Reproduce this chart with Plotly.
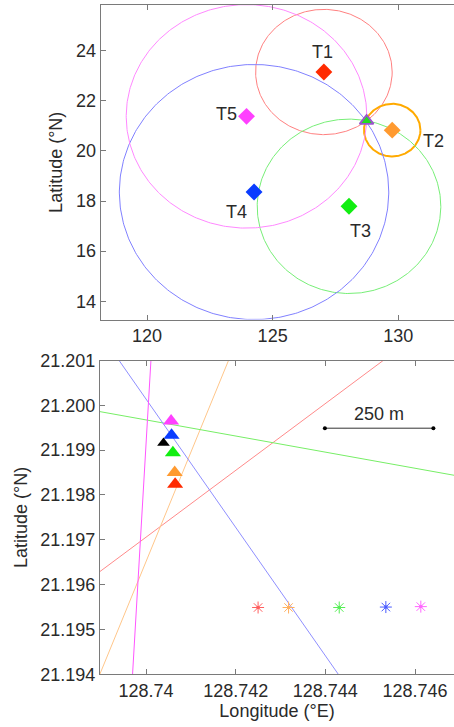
import numpy as np
import plotly.graph_objects as go

# ---------------- data: top panel (regional view) ----------------
station_names = ["T1", "T2", "T3", "T4", "T5"]
station_lon = [127.04, 129.76, 128.04, 124.26, 123.96]
station_lat = [23.15, 20.83, 17.79, 18.36, 21.38]
range_radius_deg = [2.50, 1.05, 3.48, 5.09, 4.46]
target_lon = 128.7406
target_lat = 21.1991

top_x_ticks = [120, 125, 130]
top_y_ticks = [14, 16, 18, 20, 22, 24]

# ---------------- data: bottom panel (zoomed view) ----------------
# order: red(T1), orange(T2), green(T3), blue(T4), magenta(T5)
estimate_lon = [128.74065, 128.74064, 128.74060, 128.74057, 128.74056]
estimate_lat = [21.19824, 21.19850, 21.19894, 21.19933, 21.19965]
true_lon = [128.74039]
true_lat = [21.19916]
star_lon = [128.74250, 128.74318, 128.74431, 128.74535, 128.74613]
star_lat = [21.19549, 21.19549, 21.19549, 21.19550, 21.19551]
line_lon_a = [128.73897, 128.73897, 128.73897, 128.73940, 128.74011]
line_lat_a = [21.19629, 21.19400, 21.19986, 21.20100, 21.20100]
line_lon_b = [128.74529, 128.74184, 128.74687, 128.74429, 128.73970]
line_lat_b = [21.20100, 21.20100, 21.19844, 21.19400, 21.19400]
scale_lon = [128.74399, 128.74641]
scale_lat = [21.19949, 21.19949]
scale_label = "250 m"

bot_x_ticks = [128.740, 128.742, 128.744, 128.746]
bot_x_text = ["128.74", "128.742", "128.744", "128.746"]
bot_y_ticks = [21.194, 21.195, 21.196, 21.197, 21.198, 21.199, 21.200, 21.201]

# ---------------- styles ----------------
marker_colors = ["#ff2a00", "#ff9a30", "#11ee11", "#0a3cff", "#ff40ff"]
circle_colors = ["#ff8080", "#ffaa00", "#77ee77", "#8080ff", "#ff88ff"]
circle_widths = [1, 2, 1, 1, 1]
line_colors = ["#ff8a8a", "#ffc68a", "#77ee66", "#8f8fff", "#ff55ff"]
star_colors = ["#ff6060", "#ffb060", "#55ee55", "#4a5cff", "#ff66ff"]
FONT = "Liberation Sans"
FS = 18
TXT = "#2a2a2a"
AX = "#7a7a7a"

fig = go.Figure()

# circles (range rings) on top panel
t = np.linspace(0, 2 * np.pi, 400)
for i in range(len(station_names)):
    r = range_radius_deg[i]
    lat0 = station_lat[i]
    cx = station_lon[i] + r * np.cos(t) / np.cos(np.radians(lat0))
    cy = lat0 + r * np.sin(t)
    fig.add_trace(go.Scatter(x=cx, y=cy, mode="lines",
                             line=dict(color=circle_colors[i], width=circle_widths[i]),
                             hoverinfo="skip", showlegend=False, xaxis="x", yaxis="y"))

fig.add_trace(go.Scatter(x=station_lon, y=station_lat, mode="markers",
                         marker=dict(symbol="diamond", size=13, color=marker_colors,
                                     line=dict(width=0)),
                         showlegend=False, xaxis="x", yaxis="y"))
fig.add_trace(go.Scatter(x=[target_lon], y=[target_lat], mode="markers",
                         marker=dict(symbol="triangle-up", size=12, color="#22dd22",
                                     line=dict(color="#9a55cc", width=1.8)),
                         showlegend=False, xaxis="x", yaxis="y"))

label_shift = [(-1, 20), (41, -11), (11, -25), (-18, -20), (-20, 2)]
for i, name in enumerate(station_names):
    fig.add_annotation(x=station_lon[i], y=station_lat[i], xref="x", yref="y",
                       text=name, showarrow=False,
                       xshift=label_shift[i][0], yshift=label_shift[i][1],
                       font=dict(family=FONT, size=FS, color=TXT))

# bottom panel: bearing lines
for i in range(len(line_lon_a)):
    fig.add_trace(go.Scatter(x=[line_lon_a[i], line_lon_b[i]], y=[line_lat_a[i], line_lat_b[i]],
                             mode="lines", line=dict(color=line_colors[i], width=1),
                             hoverinfo="skip", showlegend=False, xaxis="x2", yaxis="y2"))

fig.add_trace(go.Scatter(x=estimate_lon, y=estimate_lat, mode="markers",
                         marker=dict(symbol="triangle-up", size=14, color=marker_colors,
                                     line=dict(width=0)),
                         showlegend=False, xaxis="x2", yaxis="y2"))
fig.add_trace(go.Scatter(x=true_lon, y=true_lat, mode="markers",
                         marker=dict(symbol="triangle-up", size=11, color="#000000",
                                     line=dict(width=0)),
                         showlegend=False, xaxis="x2", yaxis="y2"))
fig.add_trace(go.Scatter(x=star_lon, y=star_lat, mode="markers",
                         marker=dict(symbol="asterisk-open", size=10, color=star_colors,
                                     line=dict(width=1)),
                         showlegend=False, xaxis="x2", yaxis="y2"))
fig.add_trace(go.Scatter(x=star_lon, y=star_lat, mode="markers",
                         marker=dict(symbol="square", size=3, color=star_colors, line=dict(width=0)),
                         showlegend=False, xaxis="x2", yaxis="y2"))

# scale bar
fig.add_trace(go.Scatter(x=scale_lon, y=scale_lat, mode="lines+markers",
                         line=dict(color="#333333", width=1),
                         marker=dict(symbol="circle", size=4, color="#000000"),
                         showlegend=False, xaxis="x2", yaxis="y2"))
fig.add_annotation(x=(scale_lon[0] + scale_lon[1]) / 2, y=scale_lat[0], xref="x2", yref="y2",
                   text=scale_label, showarrow=False, yshift=14,
                   font=dict(family=FONT, size=FS, color=TXT))

W, H = 454, 727
common_axis = dict(showgrid=False, zeroline=False, showline=True, linecolor=AX, linewidth=1,
                   ticks="inside", ticklen=5, tickcolor=AX, tickwidth=1,
                   tickfont=dict(family=FONT, size=FS, color=TXT), automargin=False)

fig.update_layout(
    width=W, height=H, margin=dict(l=0, r=0, t=0, b=0),
    paper_bgcolor="white", plot_bgcolor="white", showlegend=False,
    xaxis=dict(common_axis, domain=[100.7 / W, 1], range=[118.155, 132.22],
               tickvals=top_x_ticks, mirror="ticks", anchor="y"),
    yaxis=dict(common_axis, domain=[1 - 319.5 / H, 1 - 5 / H], range=[13.273, 25.824],
               tickvals=top_y_ticks, anchor="x",
               title=dict(text="Latitude (°N)", standoff=8,
                          font=dict(family=FONT, size=FS, color=TXT))),
    xaxis2=dict(common_axis, domain=[100 / W, 1], range=[128.738974, 128.746870],
                tickvals=bot_x_ticks, ticktext=bot_x_text, mirror="ticks", anchor="y2",
                title=dict(text="Longitude (°E)", standoff=4,
                           font=dict(family=FONT, size=FS, color=TXT))),
    yaxis2=dict(common_axis, domain=[1 - 674.3 / H, 1 - 360.5 / H], range=[21.194, 21.201],
                tickvals=bot_y_ticks, tickformat=".3f", anchor="x2",
                title=dict(text="Latitude (°N)", standoff=8,
                           font=dict(family=FONT, size=FS, color=TXT))),
)

fig.write_html("out.html", config={"displayModeBar": False},
               post_script="document.body.style.margin='0px';document.body.style.overflow='hidden';")
